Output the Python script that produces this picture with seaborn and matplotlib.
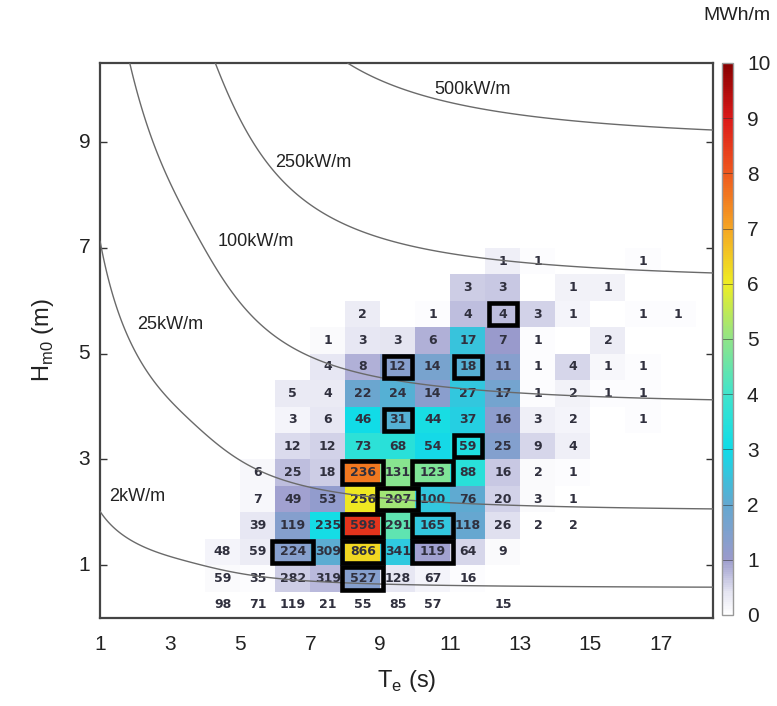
import numpy as np
import pandas as pd
import matplotlib
matplotlib.use("Agg")
import matplotlib.pyplot as plt
import seaborn as sns
from matplotlib.colors import LinearSegmentedColormap
from matplotlib.patches import Rectangle

# ---------------------------------------------------------------- data
# Bin centres of the scatter diagram (1 s energy-period bins, 0.5 m height bins)
te_centres = [4.5, 5.5, 6.5, 7.5, 8.5, 9.5, 10.5, 11.5, 12.5, 13.5, 14.5, 15.5, 16.5, 17.5]
hm0_centres = [0.25, 0.75, 1.25, 1.75, 2.25, 2.75, 3.25, 3.75, 4.25, 4.75, 5.25, 5.75, 6.25, 6.75]

_ = None
# Hours of occurrence per sea state (rows from the lowest Hm0 bin upwards)
hours = [
    [98, 71, 119, 21, 55, 85, 57, _, 15, _, _, _, _, _],
    [59, 35, 282, 319, 527, 128, 67, 16, _, _, _, _, _, _],
    [48, 59, 224, 309, 866, 341, 119, 64, 9, _, _, _, _, _],
    [_, 39, 119, 235, 598, 291, 165, 118, 26, 2, 2, _, _, _],
    [_, 7, 49, 53, 256, 207, 100, 76, 20, 3, 1, _, _, _],
    [_, 6, 25, 18, 236, 131, 123, 88, 16, 2, 1, _, _, _],
    [_, _, 12, 12, 73, 68, 54, 59, 25, 9, 4, _, _, _],
    [_, _, 3, 6, 46, 31, 44, 37, 16, 3, 2, _, 1, _],
    [_, _, 5, 4, 22, 24, 14, 27, 17, 1, 2, 1, 1, _],
    [_, _, _, 4, 8, 12, 14, 18, 11, 1, 4, 1, 1, _],
    [_, _, _, 1, 3, 3, 6, 17, 7, 1, _, 2, _, _],
    [_, _, _, _, 2, _, 1, 4, 4, 3, 1, _, 1, 1],
    [_, _, _, _, _, _, _, 3, 3, _, 1, 1, _, _],
    [_, _, _, _, _, _, _, _, 1, 1, _, _, 1, _],
]

# Annual wave energy per sea state (MWh/m), same layout as `hours`
energy = [
    [0.01, 0.01, 0.03, 0.01, 0.02, 0.03, 0.02, _, 0.01, _, _, _, _, _],
    [0.08, 0.06, 0.61, 0.77, 1.38, 0.36, 0.19, 0.05, _, _, _, _, _, _],
    [0.19, 0.29, 1.33, 2.08, 6.32, 2.64, 0.96, 0.53, 0.08, _, _, _, _, _],
    [_, 0.38, 1.39, 3.10, 8.56, 4.41, 2.61, 1.93, 0.44, 0.03, 0.03, _, _, _],
    [_, 0.12, 0.95, 1.16, 6.06, 5.19, 2.61, 2.05, 0.55, 0.08, 0.03, _, _, _],
    [_, 0.14, 0.72, 0.59, 7.60, 4.90, 4.80, 3.55, 0.66, 0.08, 0.04, _, _, _],
    [_, _, 0.48, 0.55, 3.60, 3.55, 2.94, 3.32, 1.44, 0.53, 0.24, _, _, _],
    [_, _, 0.16, 0.36, 3.02, 2.16, 3.19, 2.77, 1.23, 0.24, 0.16, _, 0.04, _],
    [_, _, 0.35, 0.32, 1.86, 2.15, 1.30, 2.60, 1.68, 0.05, 0.21, 0.05, 0.05, _],
    [_, _, _, 0.39, 0.84, 1.34, 1.63, 2.17, 1.35, 0.05, 0.51, 0.13, 0.05, _],
    [_, _, _, 0.08, 0.38, 0.40, 0.85, 2.50, 1.05, 0.05, _, 0.31, _, _],
    [_, _, _, _, 0.31, _, 0.05, 0.71, 0.72, 0.55, 0.19, _, 0.04, 0.04],
    [_, _, _, _, _, _, _, 0.62, 0.64, _, 0.22, 0.22, _, _],
    [_, _, _, _, _, _, _, _, 0.25, 0.04, _, _, 0.04, _],
]

# Sea states highlighted with a frame (Te, Hm0)
highlighted = [(12.5, 5.75), (9.5, 4.75), (11.5, 4.75), (9.5, 3.75), (11.5, 3.25),
               (8.5, 2.75), (10.5, 2.75), (9.5, 2.25), (8.5, 1.75), (10.5, 1.75),
               (6.5, 1.25), (8.5, 1.25), (10.5, 1.25), (8.5, 0.75)]

# Iso-power lines (kW/m) and where their labels sit (Te, Hm0)
power_levels = [2, 25, 100, 250, 500]
power_labels = ["2kW/m", "25kW/m", "100kW/m", "250kW/m", "500kW/m"]
power_label_te = [2.06, 3.0, 5.46, 7.09, 11.63]
power_label_hm0 = [2.29, 5.55, 7.12, 8.62, 9.99]

x_ticks = [1, 3, 5, 7, 9, 11, 13, 15, 17]
y_ticks = [1, 3, 5, 7, 9]
cbar_ticks = list(range(11))

# ---------------------------------------------------------------- grid
TE_MIN, TE_MAX, HM0_MAX = 1.0, 18.5, 10.5
n_cols, n_rows = 18, 21          # 1 s bins from 1 s, 0.5 m bins from 0 m
grid = np.full((n_rows, n_cols), np.nan)
labels = np.full((n_rows, n_cols), "", dtype=object)
for i, h in enumerate(hm0_centres):
    r = int(h // 0.5)
    for j, t in enumerate(te_centres):
        if hours[i][j] is not None:
            c = int(t // 1) - 1
            grid[r, c] = energy[i][j]
            labels[r, c] = str(hours[i][j])
df = pd.DataFrame(grid)


def to_x(te):
    return np.asarray(te) - TE_MIN


def to_y(hm0):
    return np.asarray(hm0) / 0.5


def wave_power_kw(te, hm0, depth=10.0):
    """Wave power per metre of crest (kW/m) in water of finite depth."""
    g, rho = 9.81, 1025.0
    omega = 2 * np.pi / te
    k0h = omega ** 2 * depth / g
    x = np.where(k0h > 1, k0h, np.sqrt(k0h))
    for _i in range(40):
        f = x * np.tanh(x) - k0h
        df_ = np.tanh(x) + x / np.cosh(x) ** 2
        x = x - f / df_
    k = x / depth
    c = omega / k
    n = 0.5 * (1 + 2 * x / np.sinh(2 * x))
    return rho * g * hm0 ** 2 * n * c / 16 / 1000


# ---------------------------------------------------------------- style
sns.set_theme(style="white")
plt.rcParams["font.family"] = ["Liberation Sans", "DejaVu Sans"]

cmap = LinearSegmentedColormap.from_list(
    "energy",
    [(0.00, "#ffffff"), (0.04, "#e4e4f1"), (0.10, "#9a9acc"), (0.20, "#62a8d0"),
     (0.30, "#10dce8"), (0.40, "#40e4cc"), (0.50, "#90e488"), (0.60, "#eeee22"),
     (0.70, "#f5a623"), (0.80, "#ef5a1e"), (0.90, "#dc1a1a"), (1.00, "#870000")])

fig = plt.figure(figsize=(7.77, 7.06), dpi=100)
ax = fig.add_axes([0.1287, 0.1246, 0.789, 0.7862])
cax = fig.add_axes([0.9292, 0.1289, 0.0142, 0.7819])

sns.heatmap(df, mask=df.isna(), cmap=cmap, vmin=0, vmax=10,
            annot=labels, fmt="",
            annot_kws=dict(fontsize=9, fontweight="bold", color="#30303e",
                           family="DejaVu Sans"),
            cbar_ax=cax, cbar_kws=dict(ticks=cbar_ticks),
            linewidths=0, square=False, ax=ax)

ax.set_xlim(0, to_x(TE_MAX))
ax.set_ylim(0, to_y(HM0_MAX))

# iso-power curves
tg = np.linspace(TE_MIN, TE_MAX, 500)
hg = np.linspace(0.01, HM0_MAX, 500)
TG, HG = np.meshgrid(tg, hg)
ax.contour(to_x(TG), to_y(HG), wave_power_kw(TG, HG), levels=power_levels,
           colors="#6a6a6a", linewidths=1.0, zorder=3)
for lab, t, h in zip(power_labels, power_label_te, power_label_hm0):
    ax.text(to_x(t), to_y(h), lab, fontsize=13, ha="center", va="center",
            color="#222222", zorder=4)

# framed sea states
box_w = {1: 0.8, 2: 0.8, 3: 1.16}
box_h = 0.85
for t, h in highlighted:
    i = hm0_centres.index(h)
    j = te_centres.index(t)
    w = box_w[len(str(hours[i][j]))]
    ax.add_patch(Rectangle((to_x(t) - w / 2, to_y(h) - box_h / 2), w, box_h,
                           fill=False, edgecolor="black", linewidth=3.3, zorder=5))

# axes
ax.set_xticks(to_x(x_ticks))
ax.set_xticklabels([str(v) for v in x_ticks], rotation=0, fontsize=15)
ax.set_yticks(to_y(y_ticks))
ax.set_yticklabels([str(v) for v in y_ticks], rotation=0, fontsize=15)
ax.tick_params(axis="both", colors="#333333", labelcolor="#222222")
ax.tick_params(axis="y", direction="in", length=5, width=1, left=True, right=True, pad=7)
ax.tick_params(axis="x", length=0, pad=12)
for s in ax.spines.values():
    s.set_visible(True)
    s.set_color("#444444")
    s.set_linewidth(1.6)

ax.set_xlabel(r"T$_\mathregular{e}$ (s)", fontsize=17, labelpad=10, color="#222222")
ax.set_ylabel(r"H$_\mathregular{m0}$ (m)", fontsize=17, labelpad=16, color="#222222")

# colour bar
cbar = ax.collections[0].colorbar
cbar.outline.set_edgecolor("#999999")
cbar.outline.set_linewidth(1.0)
cax.tick_params(length=0, labelsize=15, pad=10, labelcolor="#222222")
for v in cbar_ticks[1:-1]:
    cax.axhline(v, color="#333333", lw=0.7, alpha=0.55)
fig.text(0.949, 0.978, "MWh/m", ha="center", va="center", fontsize=14, color="#222222")

fig.savefig("out.png", dpi=100)
